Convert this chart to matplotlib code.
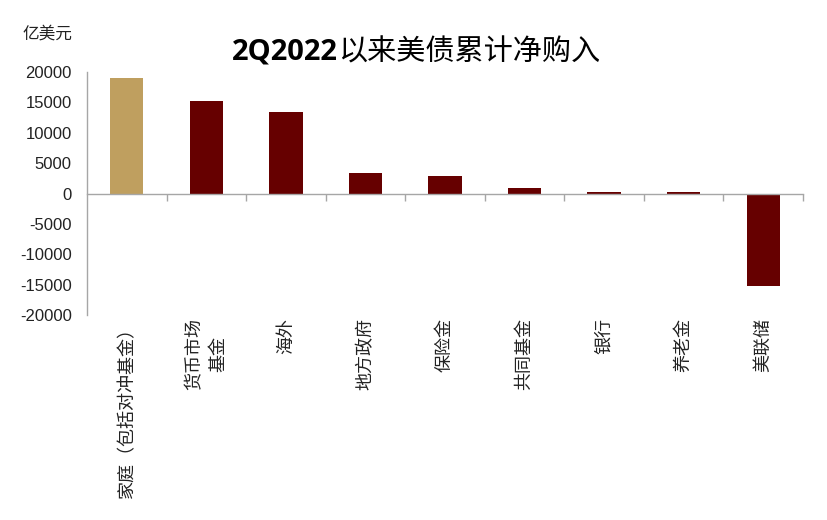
import matplotlib
matplotlib.use("Agg")
import matplotlib.pyplot as plt

plt.rcParams['font.family'] = ['Liberation Sans', 'Noto Sans CJK SC', 'DejaVu Sans']

categories = ["家庭（包括对冲基金）", "货币市场\n基金", "海外", "地方政府", "保险金",
              "共同基金", "银行", "养老金", "美联储"]
values = [19000, 15200, 13400, 3450, 2950, 930, 220, 200, -15200]
bar_colors = ["#BF9F5F"] + ["#660000"] * 8
yticks = [20000, 15000, 10000, 5000, 0, -5000, -10000, -15000, -20000]
title_num = "2Q2022"
title_rest = "以来美债累计净购入"
unit = "亿美元"

fig = plt.figure(figsize=(8.28, 5.2), dpi=100)
ax = fig.add_axes([87/828, 1-315/520, (803-87)/828, (315-72)/520])

x = list(range(len(categories)))
ax.bar(x, values, width=0.42, color=bar_colors, zorder=2)

ax.set_xlim(-0.5, len(categories) - 0.5)
ax.set_ylim(-20000, 20000)
ax.set_yticks(yticks)
ax.set_yticklabels([str(v) for v in yticks], fontsize=12, color="#222222")
ax.tick_params(axis='y', length=0, pad=11)

axis_color = "#A6A6A6"
for s in ['top', 'right']:
    ax.spines[s].set_visible(False)
ax.spines['left'].set_color(axis_color)
ax.spines['bottom'].set_color(axis_color)
ax.spines['bottom'].set_position(('data', 0))
ax.spines['left'].set_linewidth(1.0)
ax.spines['bottom'].set_linewidth(1.0)
ax.set_xticks([i + 0.5 for i in x])
ax.set_xticklabels([])
ax.tick_params(axis='x', direction='out', length=5, color=axis_color, width=1.0)

sec = ax.secondary_xaxis(0)
sec.set_xticks(x)
sec.set_xticklabels(categories, rotation=90, fontsize=13, color="#222222",
                    family=['Noto Sans CJK SC', 'DejaVu Sans'], linespacing=1.4,
                    multialignment='center')
sec.tick_params(length=0, pad=2)
sec.spines['bottom'].set_visible(False)

fig.text(22/828, 1-34/520, unit, fontsize=12, color="#222222",
         family=['Noto Sans CJK SC', 'DejaVu Sans'], va='center', ha='left')

t1 = fig.text(232/828, 1-52/520, title_num, fontsize=21, weight='bold',
              family=['Open Sans', 'DejaVu Sans'], va='center', ha='left', color='black')
ax.annotate(title_rest, xy=(1, 0.5), xycoords=t1, va='center', ha='left',
            fontsize=21, family=['Noto Sans CJK SC', 'DejaVu Sans'], color='black',
            annotation_clip=False)

fig.savefig("out.png", dpi=100)
